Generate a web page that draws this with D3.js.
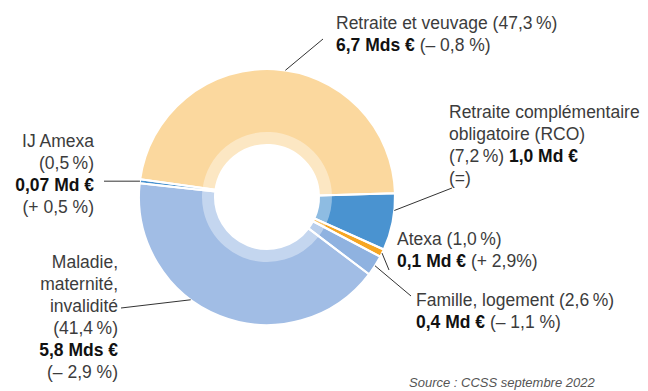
<!DOCTYPE html>
<html lang="fr">
<head>
<meta charset="utf-8">
<script src="https://cdn.jsdelivr.net/npm/d3@7"></script>
<style>
  html, body { margin: 0; padding: 0; background: #fff; }
  svg { display: block; }
  text { font-family: "Liberation Sans", Arial, sans-serif; }
</style>
</head>
<body>
<svg id="chart" width="648" height="391"></svg>
<script>
// Prestations par risque : part du total, montant et évolution
const categories = ["Retraite et veuvage", "Retraite complémentaire obligatoire (RCO)", "Atexa", "Famille, logement", "Maladie, maternité, invalidité", "IJ Amexa"];
const shares = [47.3, 7.2, 1.0, 2.6, 41.4, 0.5];
const amounts = ["6,7 Mds €", "1,0 Md €", "0,1 Md €", "0,4 Md €", "5,8 Mds €", "0,07 Md €"];
const changes = ["(– 0,8 %)", "(=)", "(+ 2,9%)", "(– 1,1 %)", "(– 2,9 %)", "(+ 0,5 %)"];
const colors = ["#fbd89e", "#4a93d0", "#f6a623", "#8fb2e0", "#a1bde5", "#4a93d0"];
const sourceNote = "Source : CCSS septembre 2022";

const svg = d3.select("#chart");
const cx = 267, cy = 197;
const rInner = 52, rBand = 65, rOuter = 128;
const startDeg = -82;

const fmtShare = v => "(" + d3.format(".1f")(v).replace(".", ",") + "\u202F%)";

const pie = d3.pie().sort(null).value(d => d)
  .startAngle(startDeg * Math.PI / 180)
  .endAngle(startDeg * Math.PI / 180 + 2 * Math.PI);
const arcs = pie(shares);

const arc = d3.arc().innerRadius(rInner).outerRadius(rOuter);
const bandArc = d3.arc().innerRadius(rInner).outerRadius(rBand);

const g = svg.append("g").attr("transform", `translate(${cx},${cy})`);

g.selectAll("path.slice").data(arcs).join("path")
  .attr("class", "slice")
  .attr("d", arc)
  .attr("fill", (d, i) => colors[i]);

// lighter inner ring on every slice
g.selectAll("path.band").data(arcs).join("path")
  .attr("class", "band")
  .attr("d", bandArc)
  .attr("fill", "#fff")
  .attr("fill-opacity", 0.38);

// white separators between slices
g.selectAll("path.sep").data(arcs).join("path")
  .attr("class", "sep")
  .attr("d", arc)
  .attr("fill", "none")
  .attr("stroke", "#fff")
  .attr("stroke-width", 2)
  .attr("stroke-linejoin", "round");

// label blocks: anchor position, line layout, leader placement
const lineH = 22;
const labelLayout = [
  { x: 336, y: 29, anchor: "start", t: 0.53, end: [323, 39],
    lines: i => [[{ s: categories[i] + " " + fmtShare(shares[i]) }], [{ s: amounts[i], b: true }, { s: " " + changes[i] }]] },
  { x: 449, y: 118, anchor: "start", t: 0.3, end: [452, 188],
    lines: i => [[{ s: "Retraite complémentaire" }], [{ s: "obligatoire (RCO)" }], [{ s: fmtShare(shares[i]) + " " }, { s: amounts[i], b: true }], [{ s: changes[i] }]] },
  { x: 397, y: 245, anchor: "start", t: 0.5, end: [389, 270],
    lines: i => [[{ s: categories[i] + " " + fmtShare(shares[i]) }], [{ s: amounts[i], b: true }, { s: " " + changes[i] }]] },
  { x: 416, y: 306, anchor: "start", t: 0.5, end: [411, 296],
    lines: i => [[{ s: categories[i] + " " + fmtShare(shares[i]) }], [{ s: amounts[i], b: true }, { s: " " + changes[i] }]] },
  { x: 118, y: 268, anchor: "end", t: 0.6, end: [121, 308],
    lines: i => [[{ s: "Maladie," }], [{ s: "maternité," }], [{ s: "invalidité" }], [{ s: fmtShare(shares[i]) }], [{ s: amounts[i], b: true }], [{ s: changes[i] }]] },
  { x: 94, y: 147, anchor: "end", t: 0.5, end: [104, null],
    lines: i => [[{ s: categories[i] }], [{ s: fmtShare(shares[i]) }], [{ s: amounts[i], b: true }], [{ s: changes[i] }]] }
];

const labels = svg.append("g");
labelLayout.forEach((L, i) => {
  const t = labels.append("text")
    .attr("x", L.x).attr("y", L.y)
    .attr("text-anchor", L.anchor)
    .attr("font-size", 17.5);
  L.lines(i).forEach((segs, k) => {
    segs.forEach((seg, j) => {
      const ts = t.append("tspan").text(seg.s)
        .attr("fill", seg.b ? "#111" : "#3c3c3c")
        .attr("font-weight", seg.b ? 700 : 400);
      if (j === 0) ts.attr("x", L.x).attr("y", L.y + k * lineH);
    });
  });

  // leader line from the outer edge of the slice to the label
  const a = arcs[i];
  const ang = a.startAngle + L.t * (a.endAngle - a.startAngle);
  const px = cx + rOuter * Math.sin(ang), py = cy - rOuter * Math.cos(ang);
  const ex = L.end[0], ey = L.end[1] === null ? py : L.end[1];
  labels.append("line")
    .attr("x1", px).attr("y1", py).attr("x2", ex).attr("y2", ey)
    .attr("stroke", "#333").attr("stroke-width", 1);
});

svg.append("text")
  .attr("x", 409).attr("y", 387)
  .attr("font-size", 13)
  .attr("font-style", "italic")
  .attr("fill", "#555")
  .text(sourceNote);
</script>
</body>
</html>
